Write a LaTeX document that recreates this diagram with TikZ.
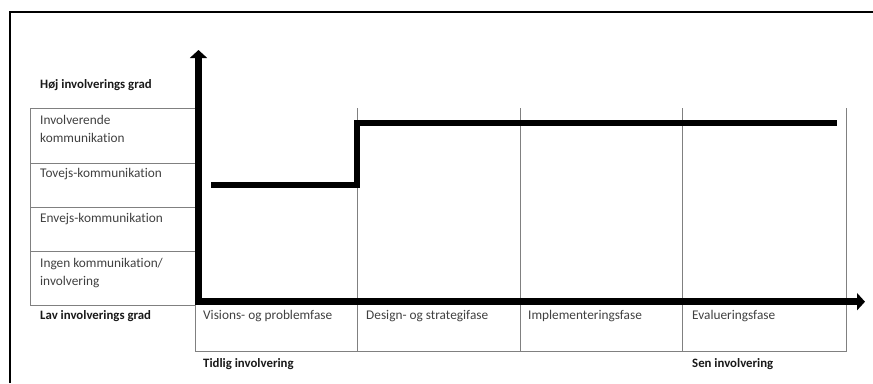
\documentclass[tikz,border=0pt]{standalone}
\usepackage{fontspec}
\setmainfont[Ligatures={NoCommon}]{Carlito}
\usetikzlibrary{arrows.meta}
\definecolor{txt}{HTML}{404040}
\definecolor{grid}{HTML}{808080}
\tikzset{
  frame/.style={line width=1.4pt, black},
  cell/.style={draw=grid, line width=0.9pt},
  lbl/.style={anchor=mid west, inner sep=0pt, text=txt, font=\fontsize{13.3}{18}\selectfont},
  head/.style={anchor=mid west, inner sep=0pt, text=black!90, font=\bfseries\fontsize{12.8}{15}\selectfont},
  axis/.style={line width=7pt, line join=miter, {Triangle[width=17pt,length=8pt]}-{Triangle[width=17pt,length=8pt]}},
  level/.style={line width=6pt, line join=miter}
}
\begin{document}
\begin{tikzpicture}[x=1pt,y=-1pt]
\useasboundingbox (0,0) rectangle (873,383);
% outer frame (left and top edges)
\draw[frame] (10,383) -- (10,12) -- (873,12);

% left table: communication levels
\draw[cell] (30,108) rectangle (195,163);
\draw[cell] (30,163) rectangle (195,207);
\draw[cell] (30,207) rectangle (195,251);
\draw[cell] (30,251) rectangle (195,305);
\node[lbl] (r1a) at (40,122) {Involverende};
\node[lbl] (r1b) at (40,140) {kommunikation};
\node[lbl] (r2) at (40,175) {Tovejs-kommunikation};
\node[lbl] (r3) at (40,220) {Envejs-kommunikation};
\node[lbl] (r4a) at (40,265) {Ingen kommunikation/};
\node[lbl] (r4b) at (40,283) {involvering};

\node[head] (hi) at (40,86) {Høj involverings grad};
\node[head] (lo) at (40,317) {Lav involverings grad};

% bottom table: phases
\draw[cell] (195,305) -- (195,351) -- (846,351) -- (846,108);
\foreach \x in {357,520,682} \draw[cell] (\x,108) -- (\x,351);
\node[lbl] (p1) at (203,317) {Visions- og problemfase};
\node[lbl] (p2) at (366,317) {Design- og strategifase};
\node[lbl] (p3) at (528,317) {Implementeringsfase};
\node[lbl] (p4) at (692,317) {Evalueringsfase};

\node[head] (early) at (203,365) {Tidlig involvering};
\node[head] (late) at (692,365) {Sen involvering};

% axes
\coordinate (ytop) at (198.5,50);
\coordinate (origin) at (198.5,301.7);
\coordinate (xend) at (865,301.7);
\draw[axis] (ytop) -- (origin) -- (xend);

% involvement level over the phases
\coordinate (s0) at (211,185);
\coordinate (s1) at (357,185);
\coordinate (s2) at (357,123);
\coordinate (s3) at (837,123);
\draw[level] (s0) -- (s1) -- (s2) -- (s3);
\end{tikzpicture}
\end{document}
